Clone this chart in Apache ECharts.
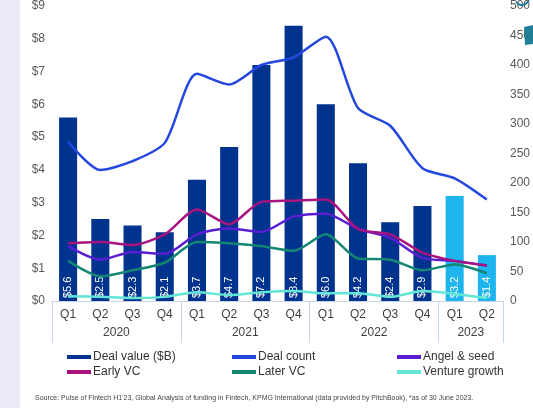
<!DOCTYPE html>
<html>
<head>
<meta charset="utf-8">
<script src="https://cdn.jsdelivr.net/npm/echarts@6/dist/echarts.min.js"></script>
<style>
  html, body { margin: 0; padding: 0; background: #fff; }
  #charts { width: 533px; height: 408px; }
</style>
</head>
<body>
<div id="charts"></div>
<script>
// quarters and years
var quarters = ['Q1', 'Q2', 'Q3', 'Q4', 'Q1', 'Q2', 'Q3', 'Q4', 'Q1', 'Q2', 'Q3', 'Q4', 'Q1', 'Q2']
var years = ['2020', '2021', '2022', '2023']
var yearStarts = [0, 4, 8, 12, 14]   // category boundaries of each year
var yearMids = [2, 6, 10, 13]

// deal value ($B), bars
var dealValue = [5.6, 2.5, 2.3, 2.1, 3.7, 4.7, 7.2, 8.4, 6.0, 4.2, 2.4, 2.9, 3.2, 1.4]
// counts, right axis
var dealCount = [270, 222, 237, 268, 385, 367, 400, 413, 448, 327, 297, 225, 208, 172]
var angelSeed = [93, 70, 83, 80, 113, 123, 117, 143, 148, 122, 107, 73, 68, 60]
var earlyVC = [98, 100, 95, 113, 155, 130, 168, 170, 172, 122, 113, 82, 68, 60]
var laterVC = [68, 42, 52, 65, 100, 98, 93, 85, 113, 72, 70, 52, 62, 47]
var ventureGrowth = [8, 7, 5, 7, 15, 10, 15, 17, 13, 13, 7, 17, 12, 5]

var sourceText = "Source: Pulse of Fintech H1'23, Global Analysis of funding in Fintech, KPMG International (data provided by PitchBook), *as of 30 June 2023."

var myChart = echarts.init(document.getElementById('charts'))
var font = 'Liberation Sans, Arial, sans-serif'
var darkBlue = '#00338d'
var lightBlue = '#1eb4ee'

// 2023 bars are a lighter blue
var barData = dealValue.map(function (v, i) {
	return i >= 12 ? { value: v, itemStyle: { color: lightBlue } } : v
})

function lineSeries (name, data, color) {
	return {
		name: name,
		type: 'line',
		yAxisIndex: 1,
		smooth: 0.25,
		symbol: 'none',
		data: data,
		lineStyle: { color: color, width: 2.5 },
		itemStyle: { color: color }
	}
}

var legendBase = {
	orient: 'vertical',
	top: 346,
	itemWidth: 24,
	itemHeight: 4,
	itemGap: 3,
	icon: 'rect',
	textStyle: { fontFamily: font, fontSize: 12, color: '#333', padding: [0, 0, 0, -3] }
}

var option = {
	animation: false,
	textStyle: { fontFamily: font },
	graphic: [
		{ type: 'rect', left: 0, top: 0, shape: { width: 20, height: 408 }, style: { fill: '#ebebf7' }, z: -10 },
		// bit of the teal logo cut off at the top right
		{ type: 'polygon', shape: { points: [[524, 27], [533, 25], [533, 44], [525, 45]] }, style: { fill: '#1f7f96' }, z: 10 },
		{ type: 'arc', shape: { cx: 522, cy: -2, r: 7, startAngle: 0.3, endAngle: 2.6 }, style: { stroke: '#1f7f96', lineWidth: 2, fill: 'none' }, z: 10 }
	],
	title: {
		text: sourceText,
		left: 30,
		top: 390,
		textStyle: { fontFamily: font, fontSize: 7, fontWeight: 'normal', color: '#444' }
	},
	legend: [
		Object.assign({ left: 62, data: ['Deal value ($B)', 'Early VC'] }, legendBase),
		Object.assign({ left: 227, data: ['Deal count', 'Later VC'] }, legendBase),
		Object.assign({ left: 392, data: ['Angel & seed', 'Venture growth'] }, legendBase)
	],
	grid: { left: 52, right: 30, top: 1, bottom: 107 },
	xAxis: [
		{
			type: 'category',
			data: quarters,
			axisLine: { show: true, lineStyle: { color: '#c8d4e8' } },
			axisTick: { show: false },
			axisLabel: { color: '#404040', fontSize: 12, margin: 8 }
		},
		{
			type: 'value',
			min: 0,
			max: 14,
			position: 'bottom',
			axisLine: { show: false },
			splitLine: { show: false },
			axisTick: { show: true, length: 42, customValues: yearStarts, lineStyle: { color: '#c8d4e8' } },
			axisLabel: {
				customValues: yearMids,
				color: '#404040',
				fontSize: 12,
				margin: 26,
				formatter: function (v) { return years[yearMids.indexOf(v)] }
			}
		}
	],
	yAxis: [
		{
			type: 'value',
			min: 0,
			max: 9,
			interval: 1,
			splitLine: { show: false },
			axisLine: { show: false },
			axisTick: { show: false },
			axisLabel: { color: '#595959', fontSize: 12, margin: 7, formatter: function (v) { return '$' + v } }
		},
		{
			type: 'value',
			min: 0,
			max: 500,
			interval: 50,
			splitLine: { show: false },
			axisLine: { show: false },
			axisTick: { show: false },
			axisLabel: { color: '#595959', fontSize: 12, margin: 7 }
		}
	],
	series: [
		{
			name: 'Deal value ($B)',
			type: 'bar',
			barWidth: '56%',
			data: barData,
			itemStyle: { color: darkBlue },
			label: {
				show: true,
				position: 'insideBottom',
				rotate: 90,
				align: 'left',
				verticalAlign: 'middle',
				distance: 3,
				color: '#fff',
				fontSize: 11,
				formatter: function (p) { return '$' + p.value.toFixed(1) }
			}
		},
		lineSeries('Deal count', dealCount, '#2447e0'),
		lineSeries('Angel & seed', angelSeed, '#5a1ed2'),
		lineSeries('Early VC', earlyVC, '#a8137f'),
		lineSeries('Later VC', laterVC, '#138674'),
		lineSeries('Venture growth', ventureGrowth, '#62e6d6')
	]
}

myChart.setOption(option)
</script>
</body>
</html>
